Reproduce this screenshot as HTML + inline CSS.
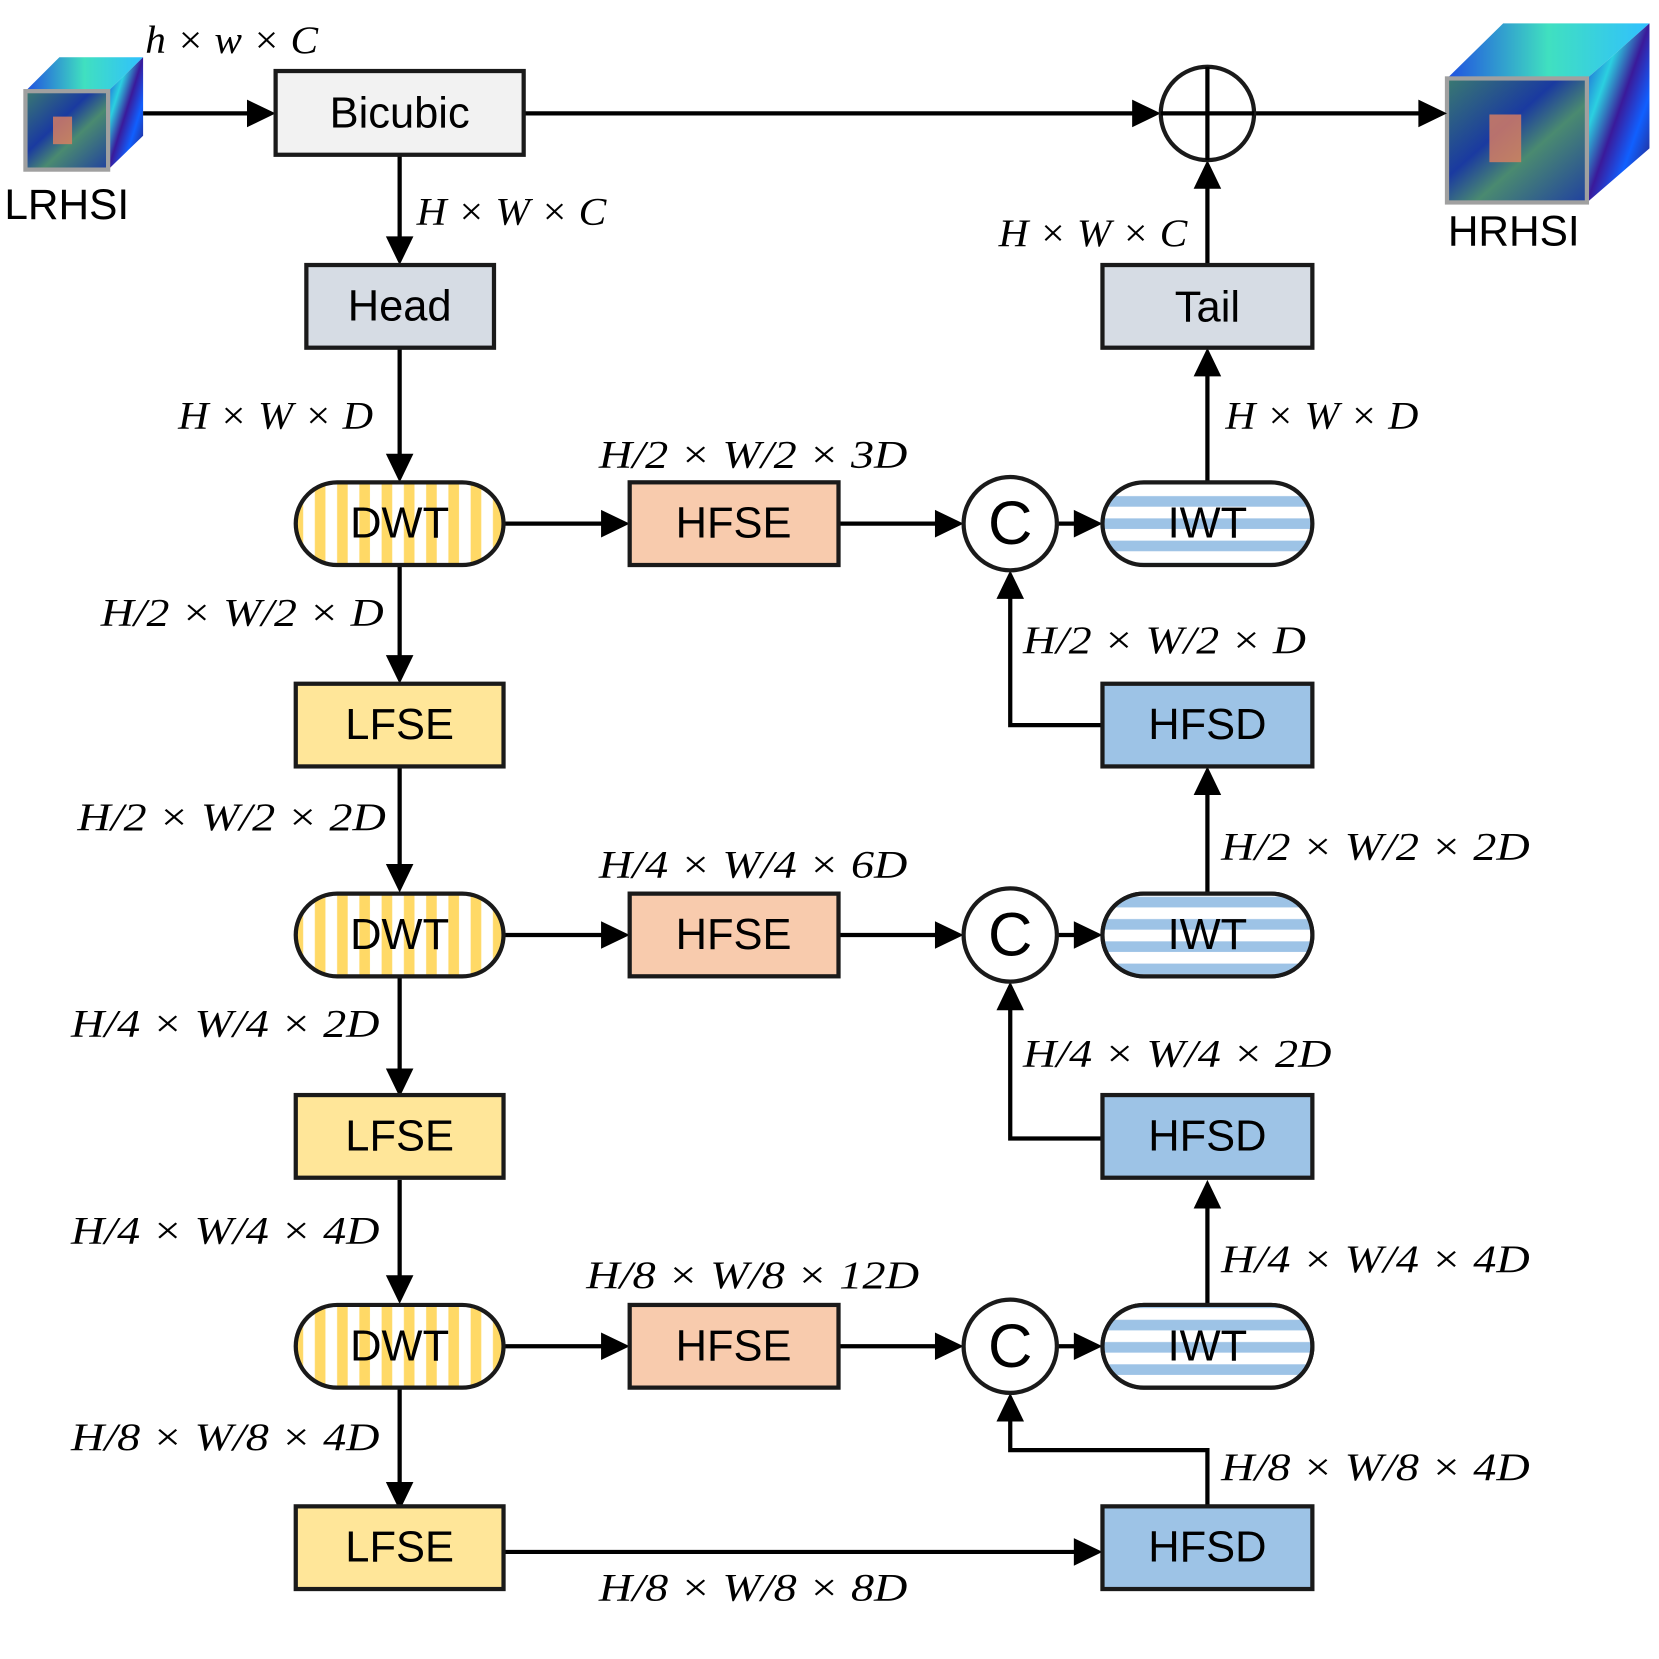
<!DOCTYPE html>
<html><head><meta charset="utf-8"><style>html,body{margin:0;padding:0;background:#fff}svg{display:block}</style></head>
<body>
<svg width="1659" height="1659" viewBox="0 0 1565 1565" xmlns="http://www.w3.org/2000/svg">
<defs>
<pattern id="vs" x="0" y="0" width="21" height="40" patternUnits="userSpaceOnUse"><rect width="21" height="40" fill="#fff"/><rect x="3" width="10" height="40" fill="#ffd966"/></pattern>
<pattern id="hs" x="0" y="458" width="40" height="21" patternUnits="userSpaceOnUse"><rect width="40" height="21" fill="#fff"/><rect y="10" width="40" height="10" fill="#9dc3e6"/></pattern>
<linearGradient id="cubeS" x1="0" y1="0" x2="1" y2="1"><stop offset="0" stop-color="#1a2fd0"/><stop offset="0.3" stop-color="#2bd0e0"/><stop offset="0.5" stop-color="#3a1a9a"/><stop offset="0.7" stop-color="#1060ff"/><stop offset="1" stop-color="#30105a"/></linearGradient>
<linearGradient id="cubeT" x1="0" y1="0" x2="1" y2="0"><stop offset="0" stop-color="#2050e0"/><stop offset="0.5" stop-color="#40e0c0"/><stop offset="1" stop-color="#30c0ff"/></linearGradient>
<linearGradient id="face" x1="0" y1="0" x2="1" y2="1"><stop offset="0" stop-color="#3a7a70"/><stop offset="0.4" stop-color="#1a3aa0"/><stop offset="0.6" stop-color="#4a8a70"/><stop offset="1" stop-color="#2040a0"/></linearGradient>
</defs>
<style>
.b{stroke:#000;stroke-width:4;fill:none}
.bx{stroke:#1a1a1a;stroke-width:4}
.t{font-family:"Liberation Sans",sans-serif;font-size:41px;text-anchor:middle;dominant-baseline:central}
.m{font-family:"Liberation Serif",serif;font-style:italic;font-size:37px}
</style>

<polygon points="24,86 56,54 135,54 102,86" fill="url(#cubeT)"/>
<polygon points="102,86 135,54 135,128 102,160" fill="url(#cubeS)"/>
<rect x="24" y="86" width="78" height="74" fill="url(#face)" stroke="#a0a0a0" stroke-width="4"/>
<rect x="50" y="110" width="18" height="26" fill="#e08060" opacity="0.8"/>
<text x="63" y="193" class="t" style="font-size:40px">LRHSI</text>
<polygon points="1365,74 1418,22 1556,22 1497,74" fill="url(#cubeT)"/>
<polygon points="1497,74 1556,22 1556,140 1497,191" fill="url(#cubeS)"/>
<rect x="1365" y="74" width="132" height="117" fill="url(#face)" stroke="#a0a0a0" stroke-width="4"/>
<rect x="1405" y="108" width="30" height="45" fill="#e08060" opacity="0.8"/>
<text x="1428" y="218" class="t" style="font-size:40px">HRHSI</text>

<g class="b">
<line x1="135" y1="107" x2="236" y2="107"/>
<line x1="494" y1="107" x2="1071" y2="107"/>
<line x1="1183" y1="107" x2="1341" y2="107"/>
<line x1="377" y1="146" x2="377" y2="226"/>
<line x1="377" y1="328" x2="377" y2="431"/>
<line x1="1139" y1="250" x2="1139" y2="175"/>
<line x1="1139" y1="455" x2="1139" y2="352"/>
<line x1="1139" y1="842" x2="1139" y2="747"/>
<line x1="1139" y1="1230" x2="1139" y2="1137"/>
<line x1="377" y1="533" x2="377" y2="621"/>
<line x1="377" y1="723" x2="377" y2="818"/>
<line x1="377" y1="920" x2="377" y2="1011"/>
<line x1="377" y1="1113" x2="377" y2="1206"/>
<line x1="377" y1="1308" x2="377" y2="1401"/>
<line x1="475" y1="494" x2="570" y2="494"/>
<line x1="475" y1="882" x2="570" y2="882"/>
<line x1="475" y1="1270" x2="570" y2="1270"/>
<line x1="791" y1="494" x2="885" y2="494"/>
<line x1="791" y1="882" x2="885" y2="882"/>
<line x1="791" y1="1270" x2="885" y2="1270"/>
<line x1="997" y1="494" x2="1016" y2="494"/>
<line x1="997" y1="882" x2="1016" y2="882"/>
<line x1="997" y1="1270" x2="1016" y2="1270"/>
<polyline points="1040,684 953,684 953,562"/>
<polyline points="1040,1074 953,1074 953,950"/>
<polyline points="1139,1425 1139,1368 953,1368 953,1338"/>
<line x1="475" y1="1464" x2="1016" y2="1464"/>
</g>
<g fill="#000">
<polygon points="260,107 233,94 233,120"/>
<polygon points="1095,107 1068,94 1068,120"/>
<polygon points="1365,107 1338,94 1338,120"/>
<polygon points="377,250 364,223 390,223"/>
<polygon points="377,455 364,428 390,428"/>
<polygon points="1139,151 1126,178 1152,178"/>
<polygon points="1139,328 1126,355 1152,355"/>
<polygon points="1139,723 1126,750 1152,750"/>
<polygon points="1139,1113 1126,1140 1152,1140"/>
<polygon points="377,645 364,618 390,618"/>
<polygon points="377,842 364,815 390,815"/>
<polygon points="377,1035 364,1008 390,1008"/>
<polygon points="377,1230 364,1203 390,1203"/>
<polygon points="377,1425 364,1398 390,1398"/>
<polygon points="594,494 567,481 567,507"/>
<polygon points="594,882 567,869 567,895"/>
<polygon points="594,1270 567,1257 567,1283"/>
<polygon points="909,494 882,481 882,507"/>
<polygon points="909,882 882,869 882,895"/>
<polygon points="909,1270 882,1257 882,1283"/>
<polygon points="1040,494 1013,481 1013,507"/>
<polygon points="1040,882 1013,869 1013,895"/>
<polygon points="1040,1270 1013,1257 1013,1283"/>
<polygon points="953,538 940,565 966,565"/>
<polygon points="953,926 940,953 966,953"/>
<polygon points="953,1314 940,1341 966,1341"/>
<polygon points="1040,1464 1013,1451 1013,1477"/>
</g>

<rect x="260" y="67" width="234" height="79" fill="#f2f2f2" class="bx"/><text x="377" y="107" class="t">Bicubic</text>
<rect x="289" y="250" width="177" height="78" fill="#d6dce4" class="bx"/><text x="377" y="289" class="t">Head</text>
<rect x="1040" y="250" width="198" height="78" fill="#d6dce4" class="bx"/><text x="1139" y="290" class="t">Tail</text>
<circle cx="1139" cy="107" r="44" fill="#fff" class="bx"/>
<line x1="1095" y1="107" x2="1183" y2="107" class="b"/><line x1="1139" y1="63" x2="1139" y2="151" class="b"/>

<g id="row">
<rect x="279" y="455" width="196" height="78" rx="39" fill="url(#vs)" class="bx"/><text x="377" y="494" class="t">DWT</text>
<rect x="594" y="455" width="197" height="78" fill="#f8cbad" class="bx"/><text x="692" y="494" class="t">HFSE</text>
<circle cx="953" cy="494" r="44" fill="#fff" class="bx"/><text x="953" y="494" class="t" style="font-size:58px">C</text>
<rect x="1040" y="455" width="198" height="78" rx="39" fill="url(#hs)" class="bx"/><text x="1139" y="494" class="t">IWT</text>
<rect x="279" y="645" width="196" height="78" fill="#ffe699" class="bx"/><text x="377" y="684" class="t">LFSE</text>
<rect x="1040" y="645" width="198" height="78" fill="#9dc3e6" class="bx"/><text x="1139" y="684" class="t">HFSD</text>
</g>
<use href="#row" y="388"/>
<use href="#row" y="776"/>
<rect x="1040" y="843" width="198" height="78" rx="39" fill="url(#hs)" class="bx"/>
<text x="1139" y="882" class="t">IWT</text>
<rect x="1040" y="1231" width="198" height="78" rx="39" fill="url(#hs)" class="bx"/>
<text x="1139" y="1270" class="t">IWT</text>

<g class="m">
<text x="137" y="50" textLength="163" lengthAdjust="spacingAndGlyphs">h × w × C</text>
<text x="393" y="212" textLength="179" lengthAdjust="spacingAndGlyphs">H × W × C</text>
<text x="168" y="404" textLength="184" lengthAdjust="spacingAndGlyphs">H × W × D</text>
<text x="565" y="441" textLength="291" lengthAdjust="spacingAndGlyphs">H/2 × W/2 × 3D</text>
<text x="95" y="590" textLength="267" lengthAdjust="spacingAndGlyphs">H/2 × W/2 × D</text>
<text x="73" y="783" textLength="291" lengthAdjust="spacingAndGlyphs">H/2 × W/2 × 2D</text>
<text x="565" y="828" textLength="291" lengthAdjust="spacingAndGlyphs">H/4 × W/4 × 6D</text>
<text x="67" y="978" textLength="291" lengthAdjust="spacingAndGlyphs">H/4 × W/4 × 2D</text>
<text x="67" y="1173" textLength="291" lengthAdjust="spacingAndGlyphs">H/4 × W/4 × 4D</text>
<text x="553" y="1215" textLength="314" lengthAdjust="spacingAndGlyphs">H/8 × W/8 × 12D</text>
<text x="67" y="1368" textLength="291" lengthAdjust="spacingAndGlyphs">H/8 × W/8 × 4D</text>
<text x="565" y="1510" textLength="291" lengthAdjust="spacingAndGlyphs">H/8 × W/8 × 8D</text>
<text x="942" y="232" textLength="178" lengthAdjust="spacingAndGlyphs">H × W × C</text>
<text x="1156" y="404" textLength="182" lengthAdjust="spacingAndGlyphs">H × W × D</text>
<text x="965" y="616" textLength="267" lengthAdjust="spacingAndGlyphs">H/2 × W/2 × D</text>
<text x="1152" y="811" textLength="291" lengthAdjust="spacingAndGlyphs">H/2 × W/2 × 2D</text>
<text x="965" y="1006" textLength="291" lengthAdjust="spacingAndGlyphs">H/4 × W/4 × 2D</text>
<text x="1152" y="1200" textLength="291" lengthAdjust="spacingAndGlyphs">H/4 × W/4 × 4D</text>
<text x="1152" y="1396" textLength="291" lengthAdjust="spacingAndGlyphs">H/8 × W/8 × 4D</text>
</g>
</svg>
</body></html>
